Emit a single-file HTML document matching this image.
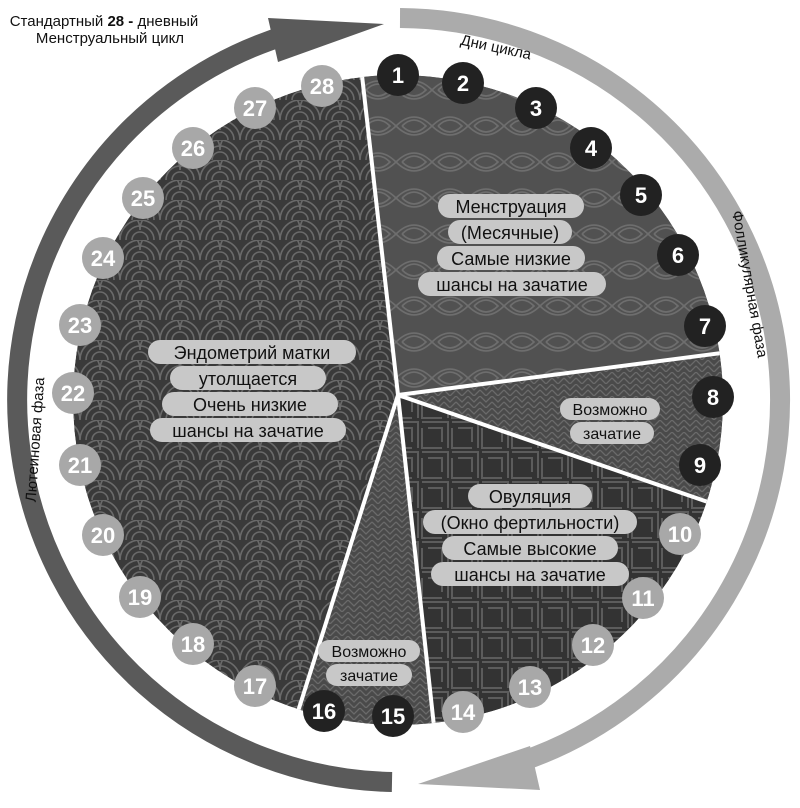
<!DOCTYPE html>
<html><head><meta charset="utf-8"><style>
html,body{margin:0;padding:0;background:#fff;width:800px;height:808px;overflow:hidden}
svg{display:block}
text{font-family:"Liberation Sans","DejaVu Sans",sans-serif}
</style></head><body>
<svg width="800" height="808" viewBox="0 0 800 808" xmlns="http://www.w3.org/2000/svg">
<defs>
<clipPath id="pie"><circle cx="398" cy="400" r="325"/></clipPath>
<pattern id="scales" width="40" height="20" patternUnits="userSpaceOnUse">
<rect width="40" height="20" fill="#3a3a3a"/>
<path d="M0 20 A20 20 0 0 1 40 20 M6 20 A14 14 0 0 1 34 20 M12 20 A8 8 0 0 1 28 20 M-20 10 A20 20 0 0 1 20 10 M20 10 A20 20 0 0 1 60 10" fill="none" stroke="#6a6a6a" stroke-width="1.6"/>
</pattern>
<pattern id="leaf" width="36" height="36" patternUnits="userSpaceOnUse">
<rect width="36" height="36" fill="#515151"/>
<path d="M0 18 Q18 0 36 18 Q18 36 0 18 M6 18 Q18 6 30 18 Q18 30 6 18" fill="none" stroke="#6e6e6e" stroke-width="1.6"/>
</pattern>
<pattern id="herring" width="12" height="12" patternUnits="userSpaceOnUse">
<rect width="12" height="12" fill="#4a4a4a"/>
<path d="M0 0 L6 6 L12 0 M0 6 L6 12 L12 6" fill="none" stroke="#6a6a6a" stroke-width="1.3"/>
</pattern>
<pattern id="maze" width="30" height="30" patternUnits="userSpaceOnUse">
<rect width="30" height="30" fill="#333"/>
<path d="M2 2 H28 V28 M8 8 H22 V22 M2 8 V28 H22" fill="none" stroke="#5c5c5c" stroke-width="2"/>
</pattern>
</defs>

<!-- outer arcs -->
<path d="M392 782 A382 382 0 0 1 290 34" fill="none" stroke="#5a5a5a" stroke-width="20"/>
<polygon points="268,18 384,24 278,62" fill="#5a5a5a"/>
<path d="M400 18 A382 382 0 0 1 520 762" fill="none" stroke="#ababab" stroke-width="20"/>
<polygon points="530,746 418,784 540,790" fill="#ababab"/>

<!-- pie -->
<g clip-path="url(#pie)">
<circle cx="398" cy="400" r="325" fill="url(#scales)"/>
<polygon points="398,395 358,40 760,40 760,348" fill="url(#leaf)"/>
<polygon points="398,395 760,348 760,520" fill="url(#herring)"/>
<polygon points="398,395 760,520 760,800 442,800" fill="url(#maze)"/>
<polygon points="398,395 442,800 270,800" fill="url(#herring)"/>
<g stroke="#fff" stroke-width="4">
<line x1="398" y1="395" x2="358" y2="40"/>
<line x1="398" y1="395" x2="760" y2="348"/>
<line x1="398" y1="395" x2="760" y2="520"/>
<line x1="398" y1="395" x2="442" y2="800"/>
<line x1="398" y1="395" x2="270" y2="800"/>
</g>
</g>

<!-- titles -->
<text x="104" y="26" font-size="15" text-anchor="middle" fill="#111">Стандартный <tspan font-weight="bold">28 -</tspan> дневный</text>
<text x="110" y="43" font-size="15" text-anchor="middle" fill="#111">Менструальный цикл</text>
<text x="495" y="52" font-size="15" text-anchor="middle" fill="#111" transform="rotate(12 495 52)">Дни цикла</text>
<text x="745" y="285" font-size="15" text-anchor="middle" fill="#111" transform="rotate(80 745 285)">Фолликулярная фаза</text>
<text x="40" y="440" font-size="15" text-anchor="middle" fill="#111" transform="rotate(-86 40 440)">Лютеиновая фаза</text>

<!-- labels -->
<g font-size="18" text-anchor="middle" fill="#111">
<g fill="#c8c8c8">
<rect x="438" y="194" width="146" height="24" rx="12"/>
<rect x="448" y="220" width="124" height="24" rx="12"/>
<rect x="437" y="246" width="148" height="24" rx="12"/>
<rect x="418" y="272" width="188" height="24" rx="12"/>
<rect x="148" y="340" width="208" height="24" rx="12"/>
<rect x="170" y="366" width="156" height="24" rx="12"/>
<rect x="162" y="392" width="176" height="24" rx="12"/>
<rect x="150" y="418" width="196" height="24" rx="12"/>
<rect x="560" y="398" width="100" height="22" rx="11"/>
<rect x="570" y="422" width="84" height="22" rx="11"/>
<rect x="468" y="484" width="124" height="24" rx="12"/>
<rect x="423" y="510" width="214" height="24" rx="12"/>
<rect x="442" y="536" width="176" height="24" rx="12"/>
<rect x="431" y="562" width="198" height="24" rx="12"/>
<rect x="318" y="640" width="102" height="22" rx="11"/>
<rect x="326" y="664" width="86" height="22" rx="11"/>
</g>
<text x="511" y="213">Менструация</text>
<text x="510" y="239">(Месячные)</text>
<text x="511" y="265">Самые низкие</text>
<text x="512" y="291">шансы на зачатие</text>
<text x="252" y="359">Эндометрий матки</text>
<text x="248" y="385">утолщается</text>
<text x="250" y="411">Очень низкие</text>
<text x="248" y="437">шансы на зачатие</text>
<text x="610" y="415" font-size="16">Возможно</text>
<text x="612" y="439" font-size="16">зачатие</text>
<text x="530" y="503">Овуляция</text>
<text x="530" y="529">(Окно фертильности)</text>
<text x="530" y="555">Самые высокие</text>
<text x="530" y="581">шансы на зачатие</text>
<text x="369" y="657" font-size="16">Возможно</text>
<text x="369" y="681" font-size="16">зачатие</text>
</g>

<!-- day circles -->
<g font-size="22" font-weight="bold" text-anchor="middle" fill="#fff">
<g fill="#222">
<circle cx="398" cy="75" r="21"/><circle cx="463" cy="83" r="21"/><circle cx="536" cy="108" r="21"/><circle cx="591" cy="148" r="21"/><circle cx="641" cy="195" r="21"/><circle cx="678" cy="255" r="21"/><circle cx="705" cy="326" r="21"/><circle cx="713" cy="397" r="21"/><circle cx="700" cy="465" r="21"/><circle cx="393" cy="716" r="21"/><circle cx="324" cy="711" r="21"/>
</g>
<g fill="#a8a8a8">
<circle cx="680" cy="534" r="21"/><circle cx="643" cy="598" r="21"/><circle cx="593" cy="645" r="21"/><circle cx="530" cy="687" r="21"/><circle cx="463" cy="712" r="21"/><circle cx="255" cy="686" r="21"/><circle cx="193" cy="644" r="21"/><circle cx="140" cy="597" r="21"/><circle cx="103" cy="535" r="21"/><circle cx="80" cy="465" r="21"/><circle cx="73" cy="393" r="21"/><circle cx="80" cy="325" r="21"/><circle cx="103" cy="258" r="21"/><circle cx="143" cy="198" r="21"/><circle cx="193" cy="148" r="21"/><circle cx="255" cy="108" r="21"/><circle cx="322" cy="86" r="21"/>
</g>
<text x="398" y="83">1</text><text x="463" y="91">2</text><text x="536" y="116">3</text><text x="591" y="156">4</text><text x="641" y="203">5</text><text x="678" y="263">6</text><text x="705" y="334">7</text><text x="713" y="405">8</text><text x="700" y="473">9</text><text x="680" y="542">10</text><text x="643" y="606">11</text><text x="593" y="653">12</text><text x="530" y="695">13</text><text x="463" y="720">14</text><text x="393" y="724">15</text><text x="324" y="719">16</text><text x="255" y="694">17</text><text x="193" y="652">18</text><text x="140" y="605">19</text><text x="103" y="543">20</text><text x="80" y="473">21</text><text x="73" y="401">22</text><text x="80" y="333">23</text><text x="103" y="266">24</text><text x="143" y="206">25</text><text x="193" y="156">26</text><text x="255" y="116">27</text><text x="322" y="94">28</text>
</g>
</svg>
</body></html>
